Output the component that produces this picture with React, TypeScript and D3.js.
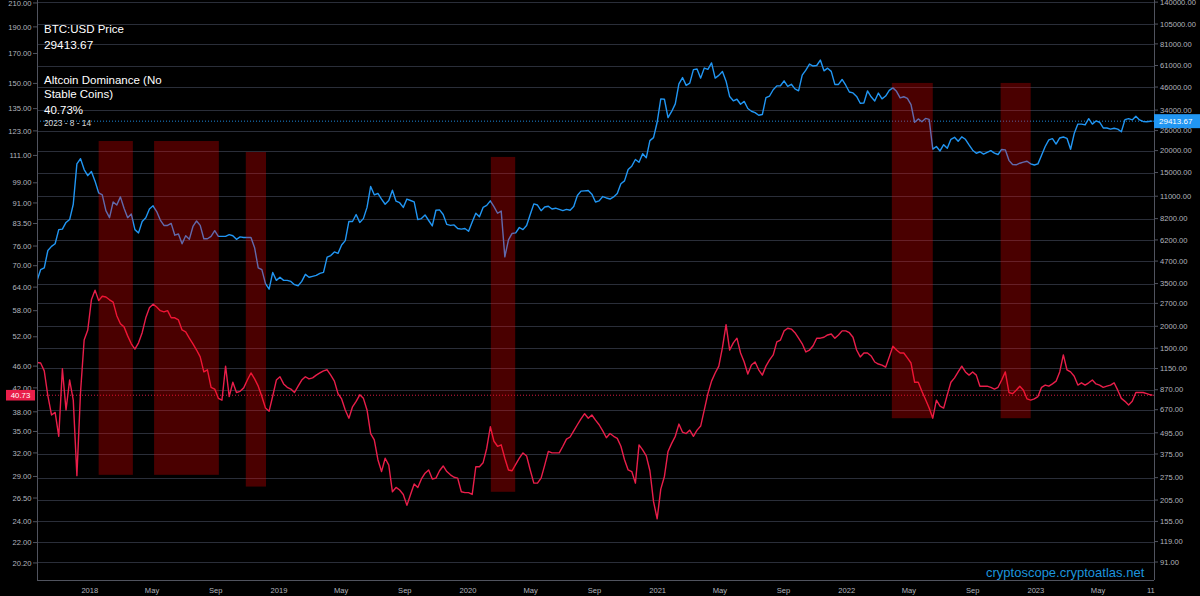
import React from "react";
import * as d3 from "d3";

const W = 1200;
const H = 596;

// weekly samples (every 7 days from FIRST_WEEK), plus the last day
const FIRST_WEEK = "2017-09-21";
const LAST_DATE = "2023-08-14";
const X_END = "2023-08-17";

const btcWeekly = [
  3630, 4200, 4300, 5400, 5700, 5900, 7100, 7150, 7800, 8100,
  9900, 16800, 18000, 15600, 14400, 15200, 13400, 11500, 11200, 9100,
  8300, 10200, 9800, 10900, 9400, 8300, 8700, 7100, 6800, 7900,
  8300, 9300, 9700, 9000, 8050, 7500, 7500, 7700, 6600, 6700,
  5900, 6550, 6250, 7400, 7950, 7500, 6300, 6300, 6500, 7000,
  6500, 6500, 6500, 6650, 6550, 6250, 6450, 6400, 6400, 6400,
  5600, 4300, 4200, 3500, 3250, 4050, 3650, 3800, 3650, 3650,
  3600, 3450, 3400, 3600, 3950, 3800, 3850, 3900, 4000, 4050,
  4950, 5050, 5300, 5200, 5800, 6150, 7900, 7900, 8650, 7800,
  8200, 9500, 12500, 11200, 11400, 10600, 9900, 10400, 11900, 10300,
  10100, 9500, 10600, 10400, 10200, 8100, 8200, 8600, 8000, 7450,
  9150, 9200, 8650, 7600, 7500, 7550, 7200, 7150, 7200, 6950,
  7850, 8800, 8400, 9500, 9750, 10350, 9600, 8800, 9050, 4970,
  6200, 6750, 6800, 7300, 7100, 7500, 8650, 9950, 9800, 9100,
  9550, 9650, 9300, 9400, 9250, 9100, 9250, 9150, 9600, 11100,
  11750, 11800, 11850, 11300, 10200, 10350, 10950, 10750, 10600, 10900,
  11400, 12950, 13450, 15600, 16300, 17800, 17150, 19200, 18200, 22800,
  23700, 29000, 39400, 39200, 30800, 33400, 36900, 47900, 52100, 47000,
  48400, 57800, 58300, 51700, 59000, 58000, 63100, 51700, 53600, 56400,
  49700, 40600, 38400, 39200, 36700, 38100, 34700, 33500, 32900, 31800,
  32100, 40000, 40900, 44400, 46700, 46800, 49900, 46400, 47700, 44900,
  43800, 53800, 57400, 62200, 60600, 61000, 65500, 56900, 58900, 56500,
  47600, 47600, 50800, 47100, 43100, 42600, 40700, 37200, 37300, 43700,
  40500, 38300, 42500, 39400, 40900, 44000, 45500, 43500, 39900, 40500,
  39700, 36500, 29000, 30300, 29200, 30500, 30100, 20400, 21100, 19900,
  21600, 20600, 23200, 23800, 22600, 23950, 23200, 21550, 20100, 19300,
  19700, 19100, 19550, 20000, 19350, 19000, 20300, 20200, 17600, 16650,
  16600, 16950, 17200, 17400, 16800, 16550, 16800, 18800, 21100, 23000,
  23400, 21800, 23600, 23900, 23500, 20350, 25000, 28300, 28300, 28000,
  30400, 28300, 29500, 29000, 26900, 26900, 26500, 26800, 26500, 25600,
  30000, 30400, 29900, 31400, 29900, 29300, 29200, 29400,
];
const btcLast = 29413.67;

const domWeekly = [
  46.7, 46.6, 45.1, 40.6, 37.5, 37.9, 34.3, 45.5, 38.3, 43.4,
  39.9, 29.1, 41.2, 51.3, 53.5, 60.7, 63.2, 60.5, 61.6, 61.4,
  60.7, 60.1, 56.8, 54.9, 54.2, 52.2, 50.5, 49.4, 50.7, 52.9,
  56.3, 58.7, 59.6, 58.9, 58.0, 57.7, 58.0, 56.3, 56.3, 55.8,
  53.5, 53.1, 51.7, 50.5, 49.2, 47.8, 44.9, 45.3, 42.1, 41.8,
  40.2, 39.9, 46.0, 40.5, 43.0, 41.2, 41.4, 42.0, 43.4, 44.7,
  43.6, 42.3, 40.5, 38.6, 38.1, 40.6, 43.4, 44.0, 42.7, 42.1,
  41.8, 41.2, 42.3, 43.4, 44.0, 43.6, 43.8, 44.3, 44.7, 45.1,
  45.3, 44.3, 43.2, 41.0, 40.1, 38.3, 37.0, 38.8, 39.7, 40.8,
  40.2, 38.3, 34.7, 33.8, 31.1, 29.6, 31.3, 30.4, 27.2, 27.7,
  27.4, 26.9, 25.7, 26.9, 28.1, 27.7, 28.7, 29.4, 29.8, 28.7,
  28.8, 29.7, 30.3, 29.6, 29.2, 28.9, 28.8, 27.2, 27.1, 27.1,
  26.9, 30.2, 30.2, 30.7, 32.6, 35.7, 33.6, 32.9, 33.1, 31.3,
  29.8, 29.7, 30.5, 31.3, 32.0, 31.6, 29.8, 28.2, 28.2, 28.8,
  30.4, 32.2, 32.0, 32.0, 32.0, 32.9, 33.9, 34.2, 35.1, 36.0,
  36.9, 37.7, 37.0, 37.5, 36.7, 36.0, 35.1, 34.1, 34.7, 34.3,
  34.0, 32.9, 31.1, 29.8, 29.6, 28.2, 33.1, 32.4, 31.6, 29.7,
  26.1, 24.3, 27.5, 29.0, 32.2, 33.3, 34.3, 36.1, 34.9, 34.7,
  35.2, 34.3, 35.2, 35.8, 38.3, 41.0, 43.2, 44.7, 46.0, 49.7,
  54.7, 49.2, 50.7, 51.7, 48.6, 46.8, 44.5, 46.2, 46.8, 45.3,
  44.3, 46.0, 47.2, 48.2, 50.9, 51.3, 53.3, 53.9, 53.7, 52.9,
  51.7, 50.5, 48.8, 49.2, 50.1, 51.7, 51.7, 51.9, 52.4, 52.6,
  51.7, 52.4, 53.3, 53.3, 52.9, 51.9, 49.2, 47.8, 48.6, 48.6,
  48.0, 46.8, 46.4, 46.2, 45.8, 47.8, 50.0, 49.2, 48.6, 48.6,
  47.6, 46.6, 43.0, 43.0, 41.4, 40.0, 38.6, 37.0, 39.9, 38.9,
  38.6, 40.8, 43.0, 43.8, 44.9, 46.0, 44.9, 44.3, 44.9, 44.3,
  42.3, 42.3, 42.3, 42.1, 41.8, 42.1, 43.4, 44.9, 41.2, 41.0,
  41.6, 42.3, 41.6, 40.1, 39.9, 40.1, 40.5, 42.1, 42.5, 42.3,
  42.7, 43.2, 44.9, 48.2, 45.3, 44.9, 44.1, 42.5, 42.9, 42.5,
  42.9, 43.4, 42.7, 42.5, 42.1, 42.3, 42.5, 42.9, 41.6, 40.2,
  39.7, 39.1, 39.7, 41.2, 41.2, 41.2, 41.0, 40.8,
];
const domLast = 40.73;

// highlighted periods (dates, and extent on the left scale)
const zoneStart = ["2018-01-18", "2018-05-05", "2018-10-29", "2020-02-14", "2022-03-29", "2022-10-25"];
const zoneEnd = ["2018-03-25", "2018-09-07", "2018-12-07", "2020-04-01", "2022-06-16", "2022-12-22"];
const zoneHigh = [117.9, 117.9, 112.6, 110.3, 150.3, 150.3];
const zoneLow = [29.2, 29.2, 27.8, 27.2, 37.0, 37.0];

const leftTicks = [210, 190, 170, 150, 135, 123, 111, 99, 91, 83.5, 76, 70, 64, 58, 52, 46, 42, 38, 35, 32, 29, 26.5, 24, 22, 20.2];
const rightTicks = [140000, 105000, 81000, 61000, 46000, 34000, 26000, 20000, 15000, 11000, 8200, 6200, 4700, 3500, 2700, 2000, 1500, 1150, 870, 670, 495, 375, 275, 205, 155, 119, 91];
const xTickDates = ["2018-01-01", "2018-05-01", "2018-09-01", "2019-01-01", "2019-05-01", "2019-09-01", "2020-01-01", "2020-05-01", "2020-09-01", "2021-01-01", "2021-05-01", "2021-09-01", "2022-01-01", "2022-05-01", "2022-09-01", "2023-01-01", "2023-05-01", "2023-08-11"];
const xTickLabels = ["2018", "May", "Sep", "2019", "May", "Sep", "2020", "May", "Sep", "2021", "May", "Sep", "2022", "May", "Sep", "2023", "May", "11"];

const BLUE = "#2196f3";
const RED = "#e91e4a";
const GRID = "#2a2e39";
const AXIS = "#50535e";
const LABEL = "#b2b5be";
const FONT = "'Liberation Sans', Arial, sans-serif";

export default function App() {
  const L = 37, R = 1154, T = 0, B = 580;
  const parse = d3.utcParse("%Y-%m-%d");
  const start = parse(FIRST_WEEK) as Date;
  const dates: Date[] = btcWeekly.map((_, i) => d3.utcDay.offset(start, 7 * i));
  dates.push(parse(LAST_DATE) as Date);
  const btc = [...btcWeekly, btcLast];
  const dom = [...domWeekly, domLast];

  const x = d3.scaleUtc().domain([start, parse(X_END) as Date]).range([L, R]);
  const yL = d3.scaleLog().domain([18.81, 212.6]).range([B, T]);
  const yR = d3.scaleLog().domain([71.9, 143960]).range([B, T]);

  const btcLine = d3.line<number>().x((_, i) => x(dates[i])).y((v) => yR(v))(btc) || "";
  const domLine = d3.line<number>().x((_, i) => x(dates[i])).y((v) => yL(v))(dom) || "";

  const fmt = d3.format(".2f");

  return (
    <svg width={W} height={H} style={{ position: "fixed", left: 0, top: 0, display: "block", background: "#000" }} fontFamily={FONT}>
      <defs>
        <clipPath id="plot">
          <rect x={L} y={T} width={R - L} height={B - T} />
        </clipPath>
      </defs>
      <rect x={0} y={0} width={W} height={H} fill="#000" />
      {/* grid */}
      {rightTicks.map((t) => (
        <line key={"g" + t} x1={L} x2={R} y1={Math.round(yR(t)) + 0.5} y2={Math.round(yR(t)) + 0.5} stroke={GRID} strokeWidth={1} />
      ))}
      {/* last value dotted lines */}
      <line x1={L} x2={R} y1={yR(btcLast)} y2={yR(btcLast)} stroke={BLUE} strokeWidth={1} strokeDasharray="1,2" opacity={0.9} />
      <line x1={L} x2={R} y1={yL(domLast)} y2={yL(domLast)} stroke={RED} strokeWidth={1} strokeDasharray="1,2" opacity={0.9} />
      <g clipPath="url(#plot)">
        <path d={btcLine} fill="none" stroke={BLUE} strokeWidth={1.4} strokeLinejoin="round" />
        <path d={domLine} fill="none" stroke={RED} strokeWidth={1.4} strokeLinejoin="round" />
        {zoneStart.map((s, i) => {
          const x0 = x(parse(s) as Date);
          const x1 = x(parse(zoneEnd[i]) as Date);
          const y0 = yL(zoneHigh[i]);
          const y1 = yL(zoneLow[i]);
          return <rect key={"z" + i} x={x0} y={y0} width={x1 - x0} height={y1 - y0} fill="rgb(255,0,0)" fillOpacity={0.29} />;
        })}
      </g>
      {/* axes */}
      <line x1={L + 0.5} x2={L + 0.5} y1={0} y2={B} stroke={AXIS} />
      <line x1={R + 0.5} x2={R + 0.5} y1={0} y2={B} stroke={AXIS} />
      <line x1={L} x2={R} y1={B + 0.5} y2={B + 0.5} stroke={AXIS} />
      {leftTicks.map((t) => (
        <g key={"l" + t}>
          <line x1={33} x2={37} y1={yL(t)} y2={yL(t)} stroke={AXIS} />
          <text x={31.5} y={yL(t) + 2.7} textAnchor="end" fontSize={7.6} fill={LABEL}>{fmt(t)}</text>
        </g>
      ))}
      {rightTicks.map((t) => (
        <g key={"r" + t}>
          <line x1={R} x2={R + 4} y1={yR(t)} y2={yR(t)} stroke={AXIS} />
          <text x={1160} y={yR(t) + 2.7} fontSize={7.6} fill={LABEL}>{fmt(t)}</text>
        </g>
      ))}
      {xTickDates.map((d, i) => (
        <text key={"x" + d} x={x(parse(d) as Date)} y={593} textAnchor="middle" fontSize={7.6} fill={LABEL}>{xTickLabels[i]}</text>
      ))}
      {/* last value labels */}
      <rect x={R} y={yR(btcLast) - 7} width={W - R} height={14} fill={BLUE} />
      <text x={1159} y={yR(btcLast) + 3} fontSize={8} fill="#fff">{fmt(btcLast)}</text>
      <rect x={6} y={yL(domLast) - 5.3} width={29} height={10.6} fill={RED} />
      <text x={20.5} y={yL(domLast) + 2.8} textAnchor="middle" fontSize={7.8} fill="#fff">{fmt(domLast)}</text>
      {/* legend */}
      <g fill="#fff" fontSize={11.5}>
        <text x={44} y={32.5}>BTC:USD Price</text>
        <text x={44} y={49} fontSize={11.8}>{fmt(btcLast)}</text>
        <text x={44} y={84}>Altcoin Dominance (No</text>
        <text x={44} y={98}>Stable Coins)</text>
        <text x={44} y={113.5}>{fmt(domLast)}%</text>
        <text x={44} y={125.5} fontSize={8.3} fill="#d8d8d8">2023 - 8 - 14</text>
      </g>
      <text x={986} y={577} fontSize={13} fill="#1c94dc">cryptoscope.cryptoatlas.net</text>
    </svg>
  );
}
